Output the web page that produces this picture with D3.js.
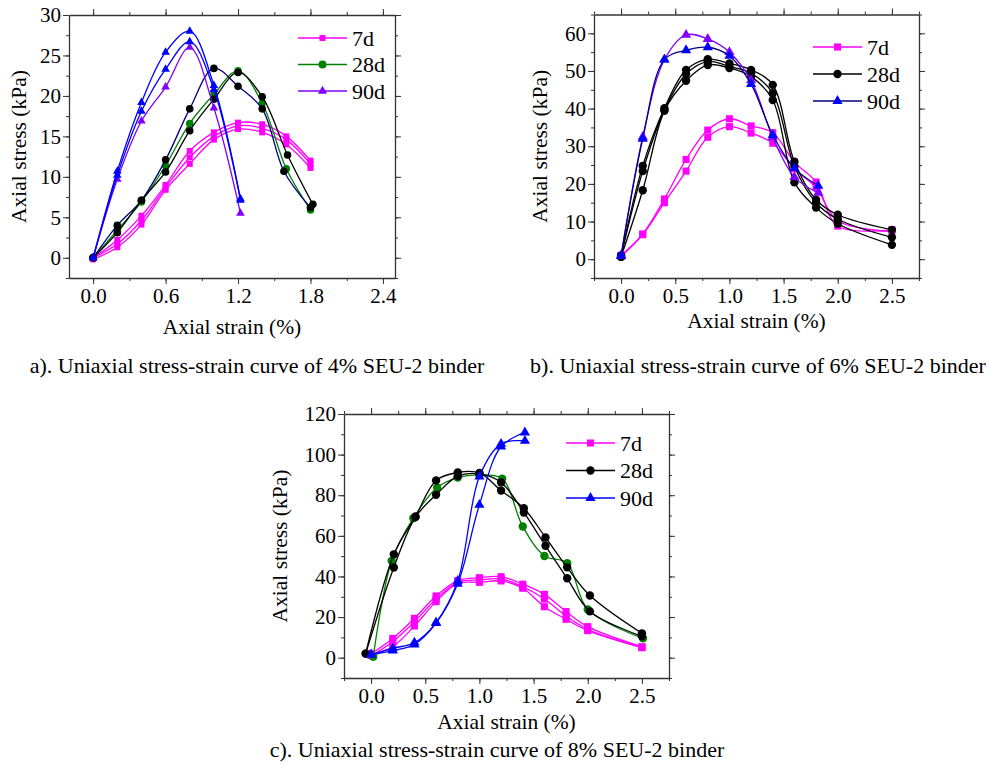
<!DOCTYPE html>
<html>
<head>
<meta charset="utf-8">
<script src="https://cdn.jsdelivr.net/npm/d3@7"></script>
<style>
  body { margin: 0; background: #fff; }
  svg text { font-family: "Liberation Serif", "Times New Roman", "DejaVu Serif", serif !important; }
</style>
</head>
<body>
<svg id="chart" width="993" height="772"></svg>
<script>
// ---- data ----
// panel a: 4% binder
const strainA = [0, 0.2, 0.4, 0.6, 0.8, 1.0, 1.2, 1.4, 1.6, 1.8];
const strainA28k = [0, 0.2, 0.4, 0.6, 0.8, 1.0, 1.2, 1.4, 1.61, 1.82];
const strainA28n = [0, 0.2, 0.4, 0.6, 0.8, 1.0, 1.2, 1.4, 1.58, 1.8];
const strainA90 = [0, 0.2, 0.4, 0.6, 0.8, 1.0, 1.22];
const stressA7 = [
  [0, 2.2, 5.2, 9.0, 13.2, 15.5, 16.7, 16.5, 15.0, 12.0],
  [0, 1.7, 4.6, 8.7, 12.4, 15.0, 16.3, 16.0, 14.6, 11.6],
  [-0.2, 1.3, 4.1, 8.4, 11.6, 14.6, 15.9, 15.5, 14.0, 11.1]
];
const stressA28g = [0, 3.4, 6.9, 11.4, 16.6, 20.2, 23.1, 19.1, 11.0, 5.9];
const stressA28n = [0, 4.0, 7.1, 12.1, 18.4, 23.4, 21.2, 18.4, 10.7, 6.2];
const stressA28k = [0, 3.1, 7.1, 10.6, 15.7, 19.6, 22.9, 19.9, 12.7, 6.6];
const stressA90p = [0, 9.7, 16.9, 21.1, 26.0, 18.5, 5.5];
const stressA90b = [
  [0, 10.7, 19.2, 25.4, 28.0, 21.3, 7.3],
  [0, 10.2, 18.1, 23.3, 26.7, 20.8, 7.1]
];

// panel b: 6% binder
const strainB = [0, 0.2, 0.4, 0.6, 0.8, 1.0, 1.2, 1.4, 1.6, 1.8, 2.0, 2.5];
const strainB90 = [0, 0.2, 0.4, 0.6, 0.8, 1.0, 1.2, 1.4, 1.6, 1.82];
const stressB7 = [
  [1.0, 6.7, 16.0, 26.5, 34.3, 37.3, 35.4, 33.6, 25.8, 20.5, 8.8, 7.8],
  [0.7, 6.5, 15.0, 23.4, 32.4, 35.2, 33.5, 30.8, 24.0, 19.0, 10.2, 7.3]
];
const stressB28 = [
  [1.0, 24.8, 40.1, 50.3, 53.1, 52.0, 50.3, 46.3, 25.9, 15.8, 11.8, 7.8],
  [0.8, 23.4, 39.6, 49.2, 52.5, 51.2, 49.4, 44.1, 24.6, 15.0, 10.6, 5.8],
  [0.6, 18.3, 39.4, 47.4, 51.6, 50.8, 48.5, 42.3, 20.4, 13.7, 9.4, 3.8]
];
const stressB90p = [1.0, 32.5, 53.0, 59.6, 58.5, 55.0, 47.5, 32.4, 21.8, 17.6];
const stressB90b = [0.8, 32.0, 53.0, 55.5, 56.3, 54.0, 46.5, 33.0, 24.2, 19.5];

// panel c: 8% binder
const strainC = [0, 0.2, 0.4, 0.6, 0.8, 1.0, 1.2, 1.4, 1.6, 1.8, 2.0, 2.5];
const strainC28k = [-0.05, 0.21, 0.41, 0.6, 0.8, 1.0, 1.2, 1.41, 1.61, 1.81, 2.02, 2.5];
const strainC28g = [0.02, 0.19, 0.39, 0.61, 0.8, 1.0, 1.21, 1.4, 1.6, 1.81, 2.0, 2.51];
const strainC90 = [0, 0.2, 0.4, 0.6, 0.8, 1.0, 1.2, 1.42];
const stressC7 = [
  [2.0, 9.5, 19.4, 30.4, 38.0, 39.4, 39.9, 36.2, 31.2, 22.7, 15.3, 5.4],
  [1.0, 7.9, 17.7, 28.9, 37.2, 38.3, 38.8, 35.0, 28.9, 20.5, 14.0, 5.1],
  [1.5, 5.5, 15.6, 27.6, 36.6, 37.1, 37.8, 34.2, 25.1, 18.9, 13.3, 4.9]
];
const stressC28k = [
  [2.0, 50.9, 69.5, 87.3, 91.2, 91.0, 82.3, 73.6, 59.2, 44.5, 30.6, 12.0],
  [2.0, 44.4, 69.2, 80.2, 89.4, 90.5, 86.3, 71.5, 55.1, 39.1, 22.8, 10.5]
];
const stressC28g = [0.5, 47.7, 68.7, 83.8, 88.7, 90.0, 88.1, 64.6, 50.1, 46.5, 23.8, 9.5];
const stressC90 = [
  [1.5, 4.6, 7.4, 17.3, 37.8, 89.2, 105.3, 106.8],
  [1.5, 3.5, 6.5, 17.0, 36.5, 75.3, 104.0, 110.9]
];

const legendLabels = ["7d", "28d", "90d"];
const captions = [
  "a). Uniaxial stress-strain curve of 4% SEU-2 binder",
  "b). Uniaxial stress-strain curve of 6% SEU-2 binder",
  "c). Uniaxial stress-strain curve of 8% SEU-2 binder"
];

// colours
const MAG = "#ff00ff", GRN = "#008000", BLK = "#000000", NAVY = "#000080",
      PUR = "#8000ff", BLU = "#0000ff";

const svg = d3.select("#chart");

function drawPanel(p) {
  const x = d3.scaleLinear().domain(p.xDomain).range([p.left, p.right]);
  const y = d3.scaleLinear().domain(p.yDomain).range([p.bottom, p.top]);
  const g = svg.append("g");

  // ticks on all four sides, pointing out
  const ax = [
    [d3.axisBottom(x), `translate(0,${p.bottom})`, true],
    [d3.axisTop(x), `translate(0,${p.top})`, false]
  ];
  ax.forEach(([a, tr, lab]) => {
    g.append("g").attr("transform", tr)
      .call(a.tickValues(d3.range(p.xMinor[0], p.xMinor[1] + 1e-9, p.xMinor[2])).tickSize(3).tickFormat(""))
      .call(s => s.select(".domain").remove());
    const major = g.append("g").attr("transform", tr)
      .call(a.tickValues(p.xTicks).tickSize(6).tickSizeOuter(0).tickPadding(4)
        .tickFormat(lab ? d3.format(".1f") : ""));
    major.selectAll("text").attr("font-size", 21).attr("fill", "#000");
  });
  const ay = [
    [d3.axisLeft(y), `translate(${p.left},0)`, true],
    [d3.axisRight(y), `translate(${p.right},0)`, false]
  ];
  ay.forEach(([a, tr, lab]) => {
    g.append("g").attr("transform", tr)
      .call(a.tickValues(d3.range(p.yMinor[0], p.yMinor[1] + 1e-9, p.yMinor[2])).tickSize(3).tickFormat(""))
      .call(s => s.select(".domain").remove());
    const major = g.append("g").attr("transform", tr)
      .call(a.tickValues(p.yTicks).tickSize(6).tickSizeOuter(0).tickPadding(2)
        .tickFormat(lab ? d3.format("d") : ""));
    major.selectAll("text").attr("font-size", 21).attr("fill", "#000");
  });
  g.selectAll(".domain").attr("stroke", "#333").attr("stroke-width", 1.3);
  g.selectAll(".tick line").attr("stroke", "#333").attr("stroke-width", 1);

  // axis titles
  g.append("text").attr("x", (p.left + p.right) / 2).attr("y", p.bottom + p.xLabelDy)
    .attr("text-anchor", "middle").attr("font-size", 21.5).text("Axial strain (%)");
  g.append("text")
    .attr("transform", `translate(${p.yLabelX},${(p.top + p.bottom) / 2}) rotate(-90)`)
    .attr("text-anchor", "middle").attr("font-size", 21.5).text("Axial stress (kPa)");

  const line = d3.line().x(d => x(d[0])).y(d => y(d[1]))
    .curve(d3.curveCatmullRom.alpha(0.5));

  p.series.forEach(s => {
    const pts = s.xs.map((v, i) => [v, s.ys[i]]);
    g.append("path").datum(pts).attr("d", line)
      .attr("fill", "none").attr("stroke", s.line).attr("stroke-width", 1.3);
    g.append("g").selectAll("path").data(pts).join("path")
      .attr("transform", d => `translate(${x(d[0])},${y(d[1])})`)
      .attr("d", d3.symbol(s.shape, s.size))
      .attr("fill", s.fill);
  });

  // legend
  p.legend.forEach((l, i) => {
    const ly = p.legY + i * p.legStep;
    g.append("line").attr("x1", p.legX).attr("x2", p.legX + 49)
      .attr("y1", ly).attr("y2", ly).attr("stroke", l.line).attr("stroke-width", 1.5);
    g.append("path").attr("transform", `translate(${p.legX + 24.5},${ly})`)
      .attr("d", d3.symbol(l.shape, l.size)).attr("fill", l.fill);
    g.append("text").attr("x", p.legX + 54).attr("y", ly).attr("dy", "0.35em")
      .attr("font-size", 22).text(legendLabels[i]);
  });

  svg.append("text").attr("x", p.capX).attr("y", p.capY)
    .attr("text-anchor", "middle").attr("font-size", 22).text(p.caption);
}

const SQ = d3.symbolSquare, CI = d3.symbolCircle, TR = d3.symbolTriangle;

drawPanel({
  left: 69, right: 395, top: 15, bottom: 278,
  xDomain: [-0.2, 2.5], yDomain: [-2.5, 30],
  xTicks: [0, 0.6, 1.2, 1.8, 2.4], xMinor: [0, 2.4, 0.3],
  yTicks: [0, 5, 10, 15, 20, 25, 30], yMinor: [-2.5, 30, 2.5],
  yLabelX: 26, xLabelDy: 56,
  series: [
    ...stressA7.map(ys => ({ xs: strainA, ys, line: MAG, fill: MAG, shape: SQ, size: 36 })),
    { xs: strainA, ys: stressA28g, line: GRN, fill: GRN, shape: CI, size: 45 },
    { xs: strainA28n, ys: stressA28n, line: NAVY, fill: BLK, shape: CI, size: 45 },
    { xs: strainA28k, ys: stressA28k, line: BLK, fill: BLK, shape: CI, size: 45 },
    { xs: strainA90, ys: stressA90p, line: PUR, fill: PUR, shape: TR, size: 32 },
    ...stressA90b.map(ys => ({ xs: strainA90, ys, line: BLU, fill: BLU, shape: TR, size: 32 }))
  ],
  legX: 298, legY: 38, legStep: 26.5,
  legend: [
    { line: MAG, fill: MAG, shape: SQ, size: 36 },
    { line: GRN, fill: GRN, shape: CI, size: 50 },
    { line: PUR, fill: PUR, shape: TR, size: 36 }
  ],
  capX: 257, capY: 373, caption: captions[0]
});

drawPanel({
  left: 594, right: 919, top: 14.5, bottom: 278,
  xDomain: [-0.25, 2.75], yDomain: [-5, 65],
  xTicks: [0, 0.5, 1, 1.5, 2, 2.5], xMinor: [-0.25, 2.75, 0.25],
  yTicks: [0, 10, 20, 30, 40, 50, 60], yMinor: [-5, 65, 5],
  yLabelX: 547, xLabelDy: 50,
  series: [
    ...stressB7.map(ys => ({ xs: strainB, ys, line: MAG, fill: MAG, shape: SQ, size: 50 })),
    ...stressB28.map(ys => ({ xs: strainB, ys, line: BLK, fill: BLK, shape: CI, size: 55 })),
    { xs: strainB90, ys: stressB90p, line: PUR, fill: PUR, shape: TR, size: 45 },
    { xs: strainB90, ys: stressB90b, line: NAVY, fill: BLU, shape: TR, size: 45 }
  ],
  legX: 813, legY: 47, legStep: 27,
  legend: [
    { line: MAG, fill: MAG, shape: SQ, size: 50 },
    { line: BLK, fill: BLK, shape: CI, size: 55 },
    { line: NAVY, fill: BLU, shape: TR, size: 45 }
  ],
  capX: 758, capY: 373, caption: captions[1]
});

drawPanel({
  left: 344, right: 669, top: 414, bottom: 678,
  xDomain: [-0.25, 2.75], yDomain: [-10, 120],
  xTicks: [0, 0.5, 1, 1.5, 2, 2.5], xMinor: [-0.25, 2.75, 0.25],
  yTicks: [0, 20, 40, 60, 80, 100, 120], yMinor: [-10, 120, 10],
  yLabelX: 287, xLabelDy: 51,
  series: [
    ...stressC7.map(ys => ({ xs: strainC, ys, line: MAG, fill: MAG, shape: SQ, size: 50 })),
    { xs: strainC28g, ys: stressC28g, line: GRN, fill: GRN, shape: CI, size: 55 },
    ...stressC28k.map(ys => ({ xs: strainC28k, ys, line: BLK, fill: BLK, shape: CI, size: 55 })),
    ...stressC90.map(ys => ({ xs: strainC90, ys, line: BLU, fill: BLU, shape: TR, size: 45 }))
  ],
  legX: 566, legY: 443, legStep: 27.5,
  legend: [
    { line: MAG, fill: MAG, shape: SQ, size: 50 },
    { line: BLK, fill: BLK, shape: CI, size: 55 },
    { line: BLU, fill: BLU, shape: TR, size: 45 }
  ],
  capX: 497, capY: 757, caption: captions[2]
});
</script>
</body>
</html>
